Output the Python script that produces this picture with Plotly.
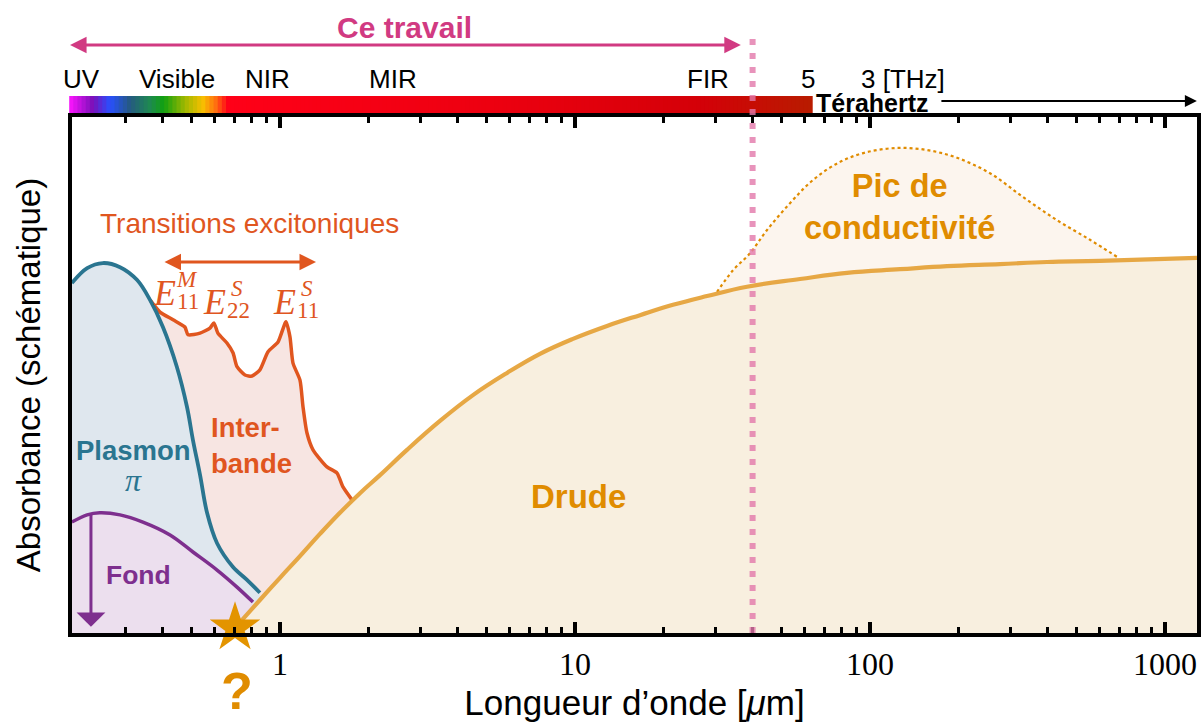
import math
import plotly.graph_objects as go

# ---------------- data (x in micrometres, y = schematic absorbance 0..1) ----------------
plasmon_x = [0.197, 0.222, 0.251, 0.287, 0.328, 0.363, 0.401, 0.447, 0.484, 0.507, 0.536, 0.566, 0.612, 0.693, 0.773, 0.855]
plasmon_y = [0.678, 0.707, 0.717, 0.709, 0.684, 0.645, 0.593, 0.516, 0.438, 0.374, 0.306, 0.233, 0.174, 0.128, 0.103, 0.078]

fond_x = [0.197, 0.222, 0.245, 0.287, 0.343, 0.424, 0.507, 0.612, 0.715, 0.810]
fond_y = [0.215, 0.229, 0.233, 0.229, 0.215, 0.190, 0.157, 0.122, 0.089, 0.060]

inter_x = [0.363, 0.392, 0.434, 0.476, 0.488, 0.536, 0.579, 0.597, 0.616, 0.661, 0.693, 0.715, 0.761,
           0.804, 0.855, 0.911, 0.985, 1.048, 1.081, 1.107, 1.169, 1.197, 1.234, 1.294, 1.443, 1.561, 1.635, 1.754]
inter_y = [0.645, 0.622, 0.607, 0.593, 0.578, 0.581, 0.591, 0.601, 0.581, 0.562, 0.543, 0.516, 0.500,
           0.498, 0.510, 0.545, 0.564, 0.603, 0.574, 0.523, 0.490, 0.438, 0.388, 0.355, 0.322, 0.310, 0.283, 0.258]

drude_x = [0.704, 0.855, 1.0, 1.169, 1.366, 1.597, 1.867, 2.183, 2.695, 3.486, 4.511, 5.883, 7.610, 9.845, 12.84,
           16.61, 21.49, 28.03, 38.30, 57.90, 83.56, 126.4, 182.4, 275.9, 398.1, 602.1, 1284]
drude_y = [0.010, 0.064, 0.107, 0.149, 0.192, 0.233, 0.271, 0.306, 0.355, 0.411, 0.461, 0.504, 0.541, 0.570, 0.595,
           0.616, 0.636, 0.653, 0.671, 0.686, 0.698, 0.705, 0.711, 0.715, 0.719, 0.721, 0.727]

peak_x = [30.30, 34.33, 39.21, 44.77, 53.56, 64.11, 79.12, 97.68, 123.5, 156.1, 197.2, 255.2, 330.1, 430.5, 556.9, 687.6]
peak_y = [0.661, 0.703, 0.736, 0.781, 0.833, 0.878, 0.913, 0.932, 0.940, 0.936, 0.921, 0.891, 0.845, 0.800, 0.762, 0.729]

tick_vals = [1, 10, 100, 1000]
tick_text = ["1", "10", "100", "1000"]
minor_vals = [m * 10 ** e for e in range(-1, 3) for m in range(2, 10) if m * 10 ** e > 0.25]

this_work_limit = 40.0          # µm, dotted pink line
spectrum_labels = ["UV", "Visible", "NIR", "MIR", "FIR", "5", "3 [THz]"]
spectrum_label_x = [0.213, 0.448, 0.910, 2.42, 28.3, 61.7, 129.0]

# spectrum bar gradient (fraction along bar, colour)
bar_stops = [(0.0, "#ff14ff"), (0.032, "#7a10b8"), (0.055, "#2850ff"), (0.082, "#255a80"),
             (0.109, "#1e8a50"), (0.127, "#10a010"), (0.156, "#a0b800"), (0.180, "#f8c000"),
             (0.197, "#ff7010"), (0.214, "#ff0018"), (0.58, "#ec0010"), (0.85, "#d40008"),
             (1.0, "#b81c00")]
bar_x_range = (0.193, 63.5)

# ---------------- styling ----------------
SANS = "Liberation Sans, Arial, sans-serif"
SERIF = "Liberation Serif, Times New Roman, serif"
C_BLUE, C_BLUE_F = "#2a7590", "#dfe7ee"
C_RED, C_RED_F = "#e0561f", "#f7e5e2"
C_PURP, C_PURP_F = "#7e2f8e", "#ecdfee"
C_DRUDE, C_DRUDE_F = "#e6a43c", "#f8efdf"
C_ORANGE = "#e08c00"
C_PEAK_F = "#fcf5ee"
C_MAG = "#d13a82"

XR = (-0.705, 3.1085)

fig = go.Figure()

# fills (back to front)
fig.add_trace(go.Scatter(x=peak_x, y=peak_y, mode="lines", line=dict(width=0, shape="spline"), fill="tozeroy",
                         fillcolor=C_PEAK_F, hoverinfo="skip"))
fig.add_trace(go.Scatter(x=inter_x, y=inter_y, mode="lines", line=dict(width=0, shape="spline", smoothing=0.6),
                         fill="tozeroy", fillcolor=C_RED_F, hoverinfo="skip"))
fig.add_trace(go.Scatter(x=plasmon_x, y=plasmon_y, mode="lines", line=dict(width=0, shape="spline"), fill="tozeroy",
                         fillcolor=C_BLUE_F, hoverinfo="skip"))
fig.add_trace(go.Scatter(x=fond_x, y=fond_y, mode="lines", line=dict(width=0, shape="spline"), fill="tozeroy",
                         fillcolor=C_PURP_F, hoverinfo="skip"))
fig.add_trace(go.Scatter(x=drude_x, y=drude_y, mode="lines", line=dict(width=0, shape="spline", smoothing=1.2),
                         fill="tozeroy", fillcolor=C_DRUDE_F, hoverinfo="skip"))

# lines
fig.add_trace(go.Scatter(x=peak_x, y=peak_y, mode="lines", line=dict(color=C_ORANGE, width=2.2, dash="dot", shape="spline")))
fig.add_trace(go.Scatter(x=inter_x, y=inter_y, mode="lines", line=dict(color=C_RED, width=3.5, shape="spline", smoothing=0.6)))
fig.add_trace(go.Scatter(x=plasmon_x, y=plasmon_y, mode="lines", line=dict(color=C_BLUE, width=3.8, shape="spline")))
fig.add_trace(go.Scatter(x=fond_x, y=fond_y, mode="lines", line=dict(color=C_PURP, width=3.5, shape="spline")))
fig.add_trace(go.Scatter(x=drude_x, y=drude_y, mode="lines",
                         line=dict(color=C_DRUDE, width=4.2, shape="spline", smoothing=1.2), opacity=0.95))

# star
fig.add_trace(go.Scatter(x=[drude_x[0]], y=[drude_y[0]], mode="markers", cliponaxis=False,
                         marker=dict(symbol="star", size=38, color="#e39400", line=dict(width=0))))

# ---------------- spectrum bar (shapes) ----------------
def hex2rgb(h):
    h = h.lstrip("#")
    return tuple(int(h[i:i + 2], 16) for i in (0, 2, 4))

def interp_color(f):
    for (f0, c0), (f1, c1) in zip(bar_stops[:-1], bar_stops[1:]):
        if f0 <= f <= f1:
            t = 0 if f1 == f0 else (f - f0) / (f1 - f0)
            a, b = hex2rgb(c0), hex2rgb(c1)
            return "rgb(%d,%d,%d)" % tuple(round(a[i] + (b[i] - a[i]) * t) for i in range(3))
    return bar_stops[-1][1]

def to_paper(xv):
    return (math.log10(xv) - XR[0]) / (XR[1] - XR[0])

p0, p1 = to_paper(bar_x_range[0]), to_paper(bar_x_range[1])
N = 180
shapes = []
for i in range(N):
    a = p0 + (p1 - p0) * i / N
    b = p0 + (p1 - p0) * (i + 1) / N + 0.0008
    shapes.append(dict(type="rect", xref="paper", yref="paper", x0=a, x1=b, y0=1.0078, y1=1.0407,
                       fillcolor=interp_color((i + 0.5) / N), line=dict(width=0), layer="above"))

# dotted pink line
shapes.append(dict(type="line", xref="x", yref="paper", x0=this_work_limit, x1=this_work_limit, y0=0, y1=1.165,
                   line=dict(color="rgba(226,120,170,0.8)", width=6, dash="6px,8px"), layer="above"))

L = math.log10
ann = []

def text(x, y, s, font, yref="y", **kw):
    d = dict(x=x, y=y, xref="x", yref=yref, text=s, showarrow=False, font=font,
             xanchor="center", yanchor="middle")
    d.update(kw)
    ann.append(d)

def hline_arrow(x_tail, x_head, y, yref, color, width, both=False, head=2, size=1.1):
    ann.append(dict(x=x_head, y=y, xref="x", yref=yref, ax=x_tail, ay=0, axref="x", ayref="pixel",
                    text="", showarrow=True, arrowhead=head, arrowsize=size, arrowwidth=width,
                    arrowside="end+start" if both else "end", arrowcolor=color, startarrowhead=head,
                    startarrowsize=size))

# Ce travail
hline_arrow(L(0.192), L(this_work_limit) - 0.04, 1.1395, "paper", C_MAG, 3, both=True)
text(0.4237, 1.174, "<b>Ce travail</b>", dict(family=SANS, size=30, color=C_MAG), yref="paper")
for lab, xv in zip(spectrum_labels, spectrum_label_x):
    text(L(xv), 1.074, lab, dict(family=SANS, size=26, color="black"), yref="paper")
text(2.01, 1.028, "<b>Térahertz</b>", dict(family=SANS, size=25, color="black"), yref="paper")
hline_arrow(2.237, 3.108, 1.031, "paper", "black", 2, size=1.2)

# excitonic transitions
text(-0.1017, 0.793, "Transitions excitoniques", dict(family=SANS, size=28, color=C_RED))
hline_arrow(-0.3966, 0.122, 0.719, "y", C_RED, 3, both=True)

def elabel(xpx, e_y, sup, sub):
    lx = (xpx - 280) / 295
    text(lx, e_y, "<i>E</i>", dict(family=SERIF, size=36, color=C_RED))
    lx2 = (xpx + 22 - 280) / 295
    text(lx2, e_y + 0.026, "<i>%s</i>" % sup, dict(family=SERIF, size=23, color=C_RED))
    text(lx2 + 0.004, e_y - 0.017, sub, dict(family=SERIF, size=23, color=C_RED))

elabel(165, 0.659, "M", "11")
elabel(215, 0.642, "S", "22")
elabel(285, 0.642, "S", "11")

text(-0.498, 0.353, "<b>Plasmon</b>", dict(family=SANS, size=27.5, color=C_BLUE))
text(-0.498, 0.296, "<i>π</i>", dict(family=SERIF, size=32, color=C_BLUE))
text(-0.0949, 0.364, "<b>Inter-<br>bande</b>", dict(family=SANS, size=27.5, color=C_RED), align="left")
text(-0.478, 0.112, "<b>Fond</b>", dict(family=SANS, size=26.5, color=C_PURP))
ann.append(dict(x=L(0.2287), y=0.012, xref="x", yref="y", ax=L(0.2287), ay=0.233, axref="x", ayref="y",
                text="", showarrow=True, arrowhead=1, arrowsize=1.6, arrowwidth=3, arrowcolor=C_PURP))
text(1.0136, 0.2636, "<b>Drude</b>", dict(family=SANS, size=33, color=C_ORANGE))
text(2.099, 0.826, "<b>Pic de<br>conductivité</b>", dict(family=SANS, size=32.5, color=C_ORANGE))
text(-0.1458, -0.112, "<b>?</b>", dict(family=SANS, size=52, color=C_ORANGE), yref="paper")

fig.update_layout(
    width=1204, height=726, showlegend=False, autosize=False,
    paper_bgcolor="white", plot_bgcolor="white",
    margin=dict(l=72, r=7, t=117, b=93, autoexpand=False),
    shapes=shapes, annotations=ann,
    xaxis=dict(type="log", range=list(XR), showgrid=False, zeroline=False, automargin=False,
               tickmode="array", tickvals=tick_vals, ticktext=tick_text,
               ticks="inside", ticklen=11, tickwidth=4, tickcolor="black",
               showline=True, linewidth=4, linecolor="black", mirror="ticks",
               tickfont=dict(family=SERIF, size=32, color="black"),
               minor=dict(tickmode="array", tickvals=minor_vals, ticks="inside", ticklen=6,
                          tickwidth=3, tickcolor="black", showgrid=False),
               title=dict(text="Longueur d’onde [<i>μ</i>m]", font=dict(family=SANS, size=35, color="black"),
                          standoff=10)),
    yaxis=dict(range=[0, 1], showgrid=False, zeroline=False, showticklabels=False, ticks="", automargin=False,
               showline=True, linewidth=4, linecolor="black", mirror=True,
               title=dict(text="Absorbance (schématique)", font=dict(family=SANS, size=33, color="black"),
                          standoff=18)),
)

fig.write_html("out.html", config={"displayModeBar": False},
               post_script="document.body.style.margin='0';document.body.style.padding='0';")
